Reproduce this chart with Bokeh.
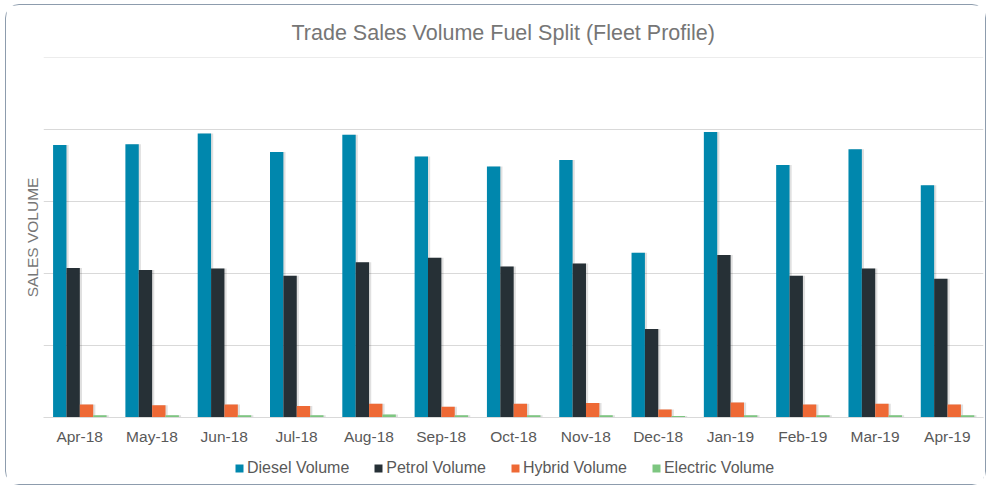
from bokeh.plotting import figure
from bokeh.layouts import column
from bokeh.models import (FactorRange, Range1d, Legend, LegendItem, FixedTicker,
                          ColumnDataSource)
from bokeh.transform import dodge
from bokeh.embed import file_html
from bokeh.resources import INLINE

months = ["Apr-18", "May-18", "Jun-18", "Jul-18", "Aug-18", "Sep-18", "Oct-18",
          "Nov-18", "Dec-18", "Jan-19", "Feb-19", "Mar-19", "Apr-19"]
diesel = [3.79, 3.80, 3.95, 3.69, 3.93, 3.63, 3.49, 3.58, 2.29, 3.97, 3.51, 3.73, 3.23]
petrol = [2.08, 2.05, 2.07, 1.97, 2.16, 2.22, 2.10, 2.14, 1.23, 2.26, 1.97, 2.07, 1.93]
hybrid = [0.18, 0.17, 0.18, 0.16, 0.19, 0.15, 0.19, 0.20, 0.11, 0.21, 0.18, 0.19, 0.18]
electric = [0.03, 0.03, 0.03, 0.03, 0.04, 0.03, 0.03, 0.03, 0.02, 0.03, 0.03, 0.03, 0.03]

series_names = ["Diesel Volume", "Petrol Volume", "Hybrid Volume", "Electric Volume"]
series_cols = ["diesel", "petrol", "hybrid", "electric"]
colors = ["#0087AD", "#263036", "#EE6935", "#7DC680"]
offsets = [-0.275, -0.09, 0.095, 0.28]

src = ColumnDataSource(dict(month=months, diesel=diesel, petrol=petrol,
                            hybrid=hybrid, electric=electric))

# ---------------- main chart ----------------
p = figure(x_range=FactorRange(factors=months, range_padding=0),
           y_range=Range1d(0, 5.005),
           width=979, height=444, output_backend="svg", toolbar_location=None,
           min_border_left=37, min_border_right=2, min_border_top=50, min_border_bottom=32)
p.outline_line_color = None

# soft shadows behind bars
for col, off in zip(series_cols, offsets):
    p.vbar(x=dodge("month", off + 0.03, range=p.x_range), top=col, width=0.185,
           source=src, fill_color="#000000", fill_alpha=0.12, line_color=None)

for col, c, off in zip(series_cols, colors, offsets):
    p.vbar(x=dodge("month", off, range=p.x_range), top=col, width=0.185,
           source=src, fill_color=c, line_color=None)

p.title.text = "Trade Sales Volume Fuel Split (Fleet Profile)"
p.title.align = "left"
p.title.offset = 248
p.title.text_font = "Liberation Sans"
p.title.text_font_size = "21.5px"
p.title.text_font_style = "normal"
p.title.text_color = "#767676"
p.title.standoff = 26

p.xgrid.grid_line_color = None
p.ygrid.ticker = FixedTicker(ticks=[1, 2, 3, 4, 5])
p.ygrid.grid_line_color = "#d9d9d9"

p.yaxis.ticker = FixedTicker(ticks=[])
p.yaxis.axis_line_color = None
p.yaxis.major_tick_line_color = None
p.yaxis.minor_tick_line_color = None
p.yaxis.axis_label = "SALES VOLUME"
p.yaxis.axis_label_text_font = "Liberation Sans"
p.yaxis.axis_label_text_font_size = "15.5px"
p.yaxis.axis_label_text_font_style = "normal"
p.yaxis.axis_label_text_color = "#767676"
p.yaxis.axis_label_standoff = 3

p.xaxis.axis_line_color = "#d9d9d9"
p.xaxis.major_tick_line_color = None
p.xaxis.minor_tick_line_color = None
p.xaxis.major_label_text_font = "Liberation Sans"
p.xaxis.major_label_text_font_size = "15.5px"
p.xaxis.major_label_text_color = "#595959"
p.xaxis.major_label_standoff = 4

# ---------------- legend strip ----------------
leg = figure(width=979, height=35, output_backend="svg", toolbar_location=None,
             x_range=Range1d(0, 1), y_range=Range1d(0, 1),
             x_axis_location=None, y_axis_location=None,
             min_border_left=0, min_border_right=0, min_border_top=0, min_border_bottom=0)
leg.outline_line_color = None
leg.grid.grid_line_color = None

items = []
for name, c in zip(series_names, colors):
    # a single off-range bar so that the legend has a swatch to draw
    r = leg.vbar(x=[-5], top=[-5], width=0.1, fill_color=c, line_color=None)
    items.append(LegendItem(label=name, renderers=[r]))

legend = Legend(items=items, orientation="horizontal", location=(191, 7))
legend.label_text_font = "Liberation Sans"
legend.label_text_font_size = "16px"
legend.label_text_color = "#595959"
legend.glyph_width = 10
legend.glyph_height = 10
legend.label_standoff = 3
legend.spacing = 24
legend.padding = 0
legend.margin = 0
legend.border_line_color = None
legend.background_fill_alpha = 0
leg.add_layout(legend)

root = column(p, leg, spacing=0,
              styles={"margin-left": "5px", "margin-top": "4px",
                      "border": "1.5px solid #8d9cad", "border-radius": "14px"})

open("out.html", "w").write(file_html(root, INLINE))
